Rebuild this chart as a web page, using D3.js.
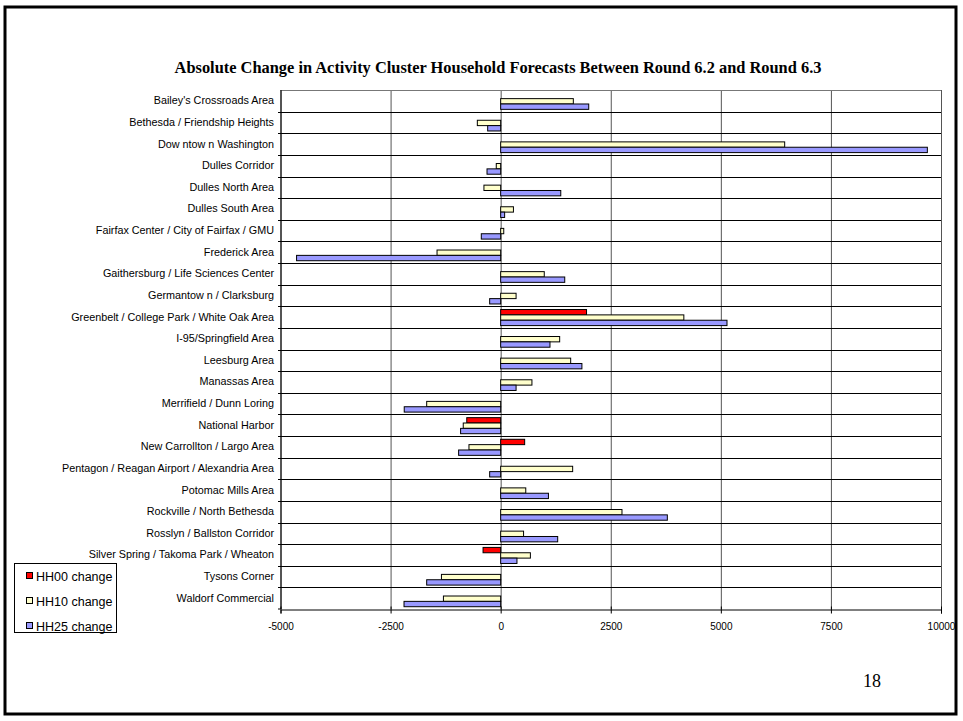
<!DOCTYPE html>
<html>
<head>
<meta charset="utf-8">
<script src="https://cdn.jsdelivr.net/npm/d3@7"></script>
<style>
  html, body { margin: 0; padding: 0; background: #fff; }
  svg { display: block; }
</style>
</head>
<body>
<svg id="chart" width="963" height="721"></svg>
<script>
// Activity clusters, top to bottom
const categories = [
  "Bailey's Crossroads Area",
  "Bethesda / Friendship Heights",
  "Dow ntow n Washington",
  "Dulles Corridor",
  "Dulles North Area",
  "Dulles South Area",
  "Fairfax Center / City of Fairfax / GMU",
  "Frederick Area",
  "Gaithersburg / Life Sciences Center",
  "Germantow n / Clarksburg",
  "Greenbelt / College Park / White Oak Area",
  "I-95/Springfield Area",
  "Leesburg Area",
  "Manassas Area",
  "Merrifield / Dunn Loring",
  "National Harbor",
  "New Carrollton / Largo Area",
  "Pentagon / Reagan Airport / Alexandria Area",
  "Potomac Mills Area",
  "Rockville / North Bethesda",
  "Rosslyn / Ballston Corridor",
  "Silver Spring / Takoma Park / Wheaton",
  "Tysons Corner",
  "Waldorf Commercial"
];

// Household change per cluster
const hh00 = [0, 0, 0, 0, 0, 0, 0, 0, 0, 0, 1950, 0, 0, 0, 0, -770, 545, 0, 0, 0, 0, -400, 0, 0];
const hh10 = [1650, -530, 6450, -100, -380, 290, 70, -1445, 990, 350, 4160, 1340, 1590, 710, -1680, -850, -720, 1635, 570, 2755, 520, 675, -1345, -1300];
const hh25 = [2000, -295, 9690, -310, 1365, 90, -440, -4635, 1455, -250, 5140, 1120, 1845, 350, -2190, -910, -955, -250, 1085, 3785, 1295, 370, -1680, -2195];

const seriesNames = ["HH00 change", "HH10 change", "HH25 change"];
const seriesColors = ["#FF0000", "#FFFFCC", "#9999FF"];
const xTicks = [-5000, -2500, 0, 2500, 5000, 7500, 10000];

const titleText = "Absolute Change in Activity Cluster Household Forecasts Between Round 6.2 and Round 6.3";
const pageNumber = "18";

const series = [hh00, hh10, hh25];

const svg = d3.select("#chart");

// slide frame
svg.append("rect")
  .attr("x", 5).attr("y", 7).attr("width", 951).attr("height", 707)
  .attr("fill", "#fff").attr("stroke", "#000").attr("stroke-width", 3);

const plot = { left: 280.5, right: 941, top: 90, bottom: 609 };

const x = d3.scaleLinear().domain([-5000, 10000]).range([plot.left, plot.right]);
const y = d3.scaleBand().domain(categories).range([plot.top, plot.bottom]).padding(0);
const sub = d3.scaleBand().domain(d3.range(series.length))
  .range([0, y.bandwidth()]).paddingOuter(0.52).paddingInner(0);

// title
svg.append("text")
  .attr("x", 498).attr("y", 73)
  .attr("text-anchor", "middle")
  .attr("font-family", "'Liberation Serif', 'Times New Roman', serif")
  .attr("font-weight", "bold")
  .attr("font-size", 16.4)
  .text(titleText);

// vertical gridlines
svg.append("g")
  .selectAll("line")
  .data(xTicks)
  .join("line")
  .attr("x1", d => x(d) + 0.5).attr("x2", d => x(d) + 0.5)
  .attr("y1", plot.top).attr("y2", plot.bottom)
  .attr("stroke", "#555").attr("stroke-width", 1);

// category separators
svg.append("g")
  .selectAll("line")
  .data(categories.slice(1))
  .join("line")
  .attr("x1", plot.left).attr("x2", plot.right)
  .attr("y1", d => Math.round(y(d)) + 0.5).attr("y2", d => Math.round(y(d)) + 0.5)
  .attr("stroke", "#000").attr("stroke-width", 1);

// top border
svg.append("line")
  .attr("x1", plot.left).attr("x2", plot.right)
  .attr("y1", plot.top + 0.5).attr("y2", plot.top + 0.5)
  .attr("stroke", "#777");

// bars
const barGroup = svg.append("g");
series.forEach((vals, si) => {
  barGroup.append("g")
    .selectAll("rect")
    .data(vals.map((v, i) => ({ v, c: categories[i] })).filter(d => d.v !== 0))
    .join("rect")
    .attr("x", d => Math.min(x(0), x(d.v)))
    .attr("width", d => Math.abs(x(d.v) - x(0)))
    .attr("y", d => y(d.c) + sub(si) + 0.5)
    .attr("height", sub.bandwidth())
    .attr("fill", seriesColors[si])
    .attr("stroke", "#000")
    .attr("stroke-width", 1);
});

// x axis (plain hyphen for negatives)
const xAxis = d3.axisBottom(x).tickValues(xTicks).tickFormat(d => String(d)).tickSize(4).tickPadding(9);
const gx = svg.append("g")
  .attr("transform", `translate(0,${plot.bottom + 0.5})`)
  .call(xAxis);
gx.select(".domain").attr("stroke", "#000");
gx.selectAll(".tick line").attr("stroke", "#000").attr("y1", -3);
gx.selectAll(".tick text")
  .attr("font-family", "'Liberation Sans', Arial, sans-serif")
  .attr("font-size", 10).attr("fill", "#000");

// y axis
const yAxis = d3.axisLeft(y).tickSize(0).tickPadding(7);
const gy = svg.append("g")
  .attr("transform", `translate(${plot.left + 0.5},0)`)
  .call(yAxis);
gy.select(".domain").attr("stroke", "#000").attr("d", `M0,${plot.top}V${plot.bottom}`);
gy.selectAll(".tick text")
  .attr("font-family", "'Liberation Sans', Arial, sans-serif")
  .attr("font-size", 10.8).attr("fill", "#000");
// small ticks at category boundaries
gy.append("g").selectAll("line")
  .data(categories.slice(1).concat([null]))
  .join("line")
  .attr("x1", -3).attr("x2", 0)
  .attr("y1", d => d === null ? plot.bottom : Math.round(y(d)) + 0.5)
  .attr("y2", d => d === null ? plot.bottom : Math.round(y(d)) + 0.5)
  .attr("stroke", "#000");

// legend
const legend = svg.append("g");
legend.append("rect")
  .attr("x", 14.5).attr("y", 563.5).attr("width", 102).attr("height", 69)
  .attr("fill", "#fff").attr("stroke", "#000");
seriesNames.forEach((name, i) => {
  const cy = 576 + i * 25;
  legend.append("rect")
    .attr("x", 26.5).attr("y", cy - 3.5).attr("width", 6).attr("height", 6)
    .attr("fill", seriesColors[i]).attr("stroke", "#000");
  legend.append("text")
    .attr("x", 36).attr("y", cy + 4.5)
    .attr("font-family", "'Liberation Sans', Arial, sans-serif")
    .attr("font-size", 12.5)
    .text(name);
});

// page number
svg.append("text")
  .attr("x", 872).attr("y", 687)
  .attr("text-anchor", "middle")
  .attr("font-family", "'Liberation Serif', 'Times New Roman', serif")
  .attr("font-size", 18)
  .text(pageNumber);
</script>
</body>
</html>
